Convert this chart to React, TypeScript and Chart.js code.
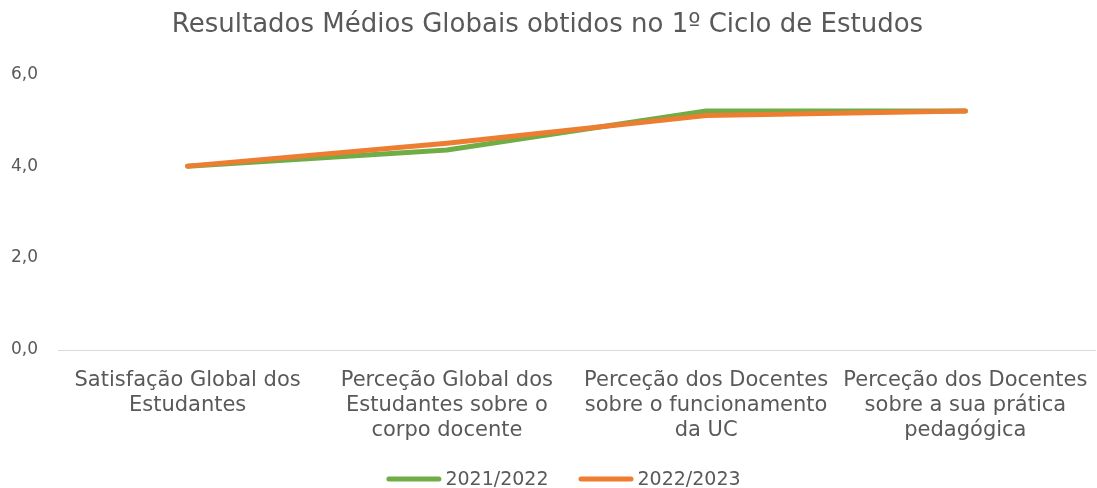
import React, { useEffect, useRef } from "react";
import { Chart, registerables } from "chart.js";

Chart.register(...registerables);

const categories: string[][] = [
  ["Satisfação Global dos", "Estudantes"],
  ["Perceção Global dos", "Estudantes sobre o", "corpo docente"],
  ["Perceção dos Docentes", "sobre o funcionamento", "da UC"],
  ["Perceção dos Docentes", "sobre a sua prática", "pedagógica"],
];
const series2021: number[] = [4.0, 4.35, 5.2, 5.2];
const series2022: number[] = [4.0, 4.5, 5.1, 5.2];
const seriesLabels: string[] = ["2021/2022", "2022/2023"];
const seriesColors: string[] = ["#70ad47", "#ed7d31"];
const yTicks: number[] = [0, 2, 4, 6];

const FONT = "'DejaVu Sans', sans-serif";
const GRAY = "#595959";

const customLegend = {
  id: "customLegend",
  afterDraw(chart: any) {
    const ctx = chart.ctx as CanvasRenderingContext2D;
    ctx.save();
    ctx.font = `19px ${FONT}`;
    ctx.textBaseline = "middle";
    const lineW = 55;
    const gap = 4;
    const itemGap = 30;
    const widths = seriesLabels.map((t) => lineW + gap + ctx.measureText(t).width);
    const total = widths.reduce((a, b) => a + b, 0) + itemGap * (widths.length - 1);
    let x = chart.width / 2 + 15 - total / 2;
    const y = 479;
    seriesLabels.forEach((t, i) => {
      ctx.strokeStyle = seriesColors[i];
      ctx.lineWidth = 5;
      ctx.lineCap = "round";
      ctx.beginPath();
      ctx.moveTo(x + 2.5, y);
      ctx.lineTo(x + lineW - 2.5, y);
      ctx.stroke();
      ctx.fillStyle = GRAY;
      ctx.textAlign = "left";
      ctx.fillText(t, x + lineW + gap, y + 1);
      x += widths[i] + itemGap;
    });
    ctx.restore();
  },
};

export default function App() {
  const ref = useRef<HTMLCanvasElement | null>(null);
  useEffect(() => {
    document.body.style.margin = "0";
    const canvas = ref.current!;
    const chart = new Chart(canvas, {
      type: "line",
      data: {
        labels: categories,
        datasets: [
          {
            label: seriesLabels[0],
            data: series2021,
            borderColor: seriesColors[0],
            backgroundColor: seriesColors[0],
            borderWidth: 5,
            pointRadius: 0,
            borderCapStyle: "round",
            borderJoinStyle: "round",
            tension: 0,
            order: 2,
          },
          {
            label: seriesLabels[1],
            data: series2022,
            borderColor: seriesColors[1],
            backgroundColor: seriesColors[1],
            borderWidth: 5,
            pointRadius: 0,
            borderCapStyle: "round",
            borderJoinStyle: "round",
            tension: 0,
            order: 1,
          },
        ],
      },
      plugins: [customLegend],
      options: {
        animation: false,
        responsive: false,
        maintainAspectRatio: false,
        layout: { padding: { left: 0, right: 2, top: 0, bottom: 38 } },
        plugins: {
          title: {
            display: true,
            text: "Resultados Médios Globais obtidos no 1º Ciclo de Estudos",
            color: GRAY,
            font: { family: FONT, size: 26, weight: "normal" },
            padding: { top: 10, bottom: 33 },
          },
          legend: { display: false },
          tooltip: { enabled: false },
        },
        scales: {
          x: {
            offset: true,
            grid: { display: false, drawTicks: false },
            border: { display: true, color: "#d9d9d9", width: 1 },
            ticks: {
              color: GRAY,
              font: { family: FONT, size: 21, lineHeight: 1.19 },
              maxRotation: 0,
              autoSkip: false,
              padding: 18,
            },
            afterFit: (s: any) => {
              s.height = 100;
              s.paddingLeft = 0;
              s.paddingRight = 0;
            },
          },
          y: {
            min: 0,
            max: 6,
            afterBuildTicks: (s: any) => {
              s.ticks = yTicks.map((v) => ({ value: v }));
            },
            afterFit: (s: any) => {
              s.width = 58;
              s.paddingTop = 0;
              s.paddingBottom = 0;
            },
            grid: { display: false, drawTicks: false },
            border: { display: false },
            ticks: {
              color: GRAY,
              font: { family: FONT, size: 17 },
              padding: 20,
              callback: (v: any) => Number(v).toFixed(1).replace(".", ","),
            },
          },
        },
      },
    });
    return () => chart.destroy();
  }, []);
  return <canvas ref={ref} width={1097} height={488} style={{ display: "block" }} />;
}
